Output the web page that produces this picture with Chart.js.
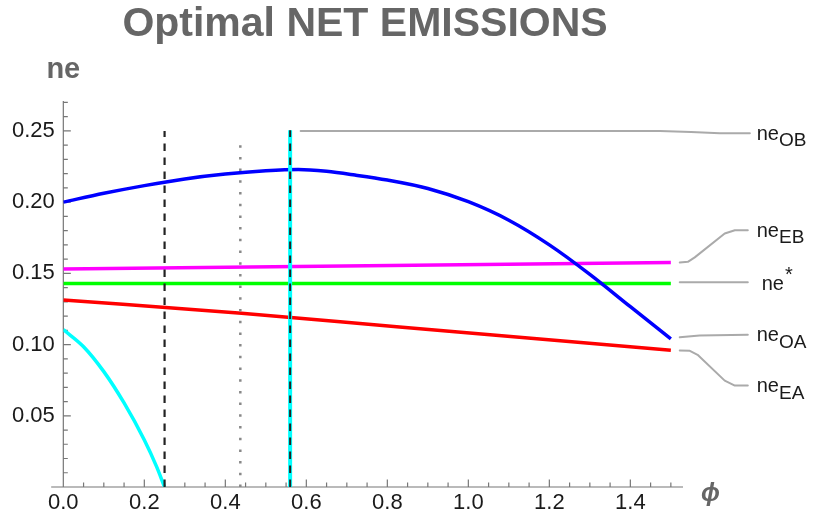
<!DOCTYPE html>
<html>
<head>
<meta charset="utf-8">
<script src="https://cdn.jsdelivr.net/npm/chart.js@4.4.0/dist/chart.umd.min.js"></script>
<style>
  html, body { margin: 0; padding: 0; background: #fff; }
  #wrap { width: 813px; height: 524px; }
</style>
</head>
<body>
<div id="wrap"><canvas id="chart"></canvas></div>
<script>
// tick labels
var xTicks = [0, 0.2, 0.4, 0.6, 0.8, 1.0, 1.2, 1.4];
var yTicks = [0.05, 0.10, 0.15, 0.20, 0.25];

// curves
var blueX = [0, 0.1, 0.2, 0.3, 0.4, 0.5, 0.58, 0.65, 0.72, 0.8, 0.9, 1.0, 1.1, 1.2, 1.3, 1.4, 1.5];
var blueY = [0.2000, 0.2062, 0.2116, 0.2163, 0.2197, 0.2220, 0.2229, 0.2216, 0.2190, 0.2155, 0.2096, 0.2003, 0.1873, 0.1700, 0.1493, 0.1266, 0.1040];

var magentaX = [0, 1.5];
var magentaY = [0.1530, 0.1577];

var greenX = [0, 1.5];
var greenY = [0.1428, 0.1428];

var redX = [0, 0.44, 0.83, 1.5];
var redY = [0.1313, 0.1220, 0.1123, 0.0960];

var cyanX = [0, 0.05, 0.10, 0.15, 0.20, 0.23, 0.25];
var cyanY = [0.1105, 0.0985, 0.0810, 0.0590, 0.0330, 0.0145, 0];

// vertical markers (phi value, top)
var dashedPhi = 0.25, dashedTop = 0.25;
var dottedPhi = 0.437, dottedTop = 0.2437;
var cyanPhi = 0.56, cyanTop = 0.2505;

// callout labels and their leader lines (data coords)
var calloutNames = ['OB', 'EB', '*', 'OA', 'EA'];
var calloutLines = [
    [[0.586, 0.2500], [1.473, 0.2500], [1.55, 0.2492], [1.621, 0.2484], [1.695, 0.2484]],
    [[1.522, 0.1577], [1.542, 0.1581], [1.559, 0.1612], [1.633, 0.1780], [1.658, 0.1803], [1.690, 0.1803]],
    [[1.522, 0.1437], [1.690, 0.1437]],
    [[1.522, 0.1051], [1.571, 0.1063], [1.690, 0.1069]],
    [[1.522, 0.0958], [1.547, 0.0956], [1.566, 0.0928], [1.633, 0.0747], [1.658, 0.0712], [1.690, 0.0712]]
];
var calloutLabelX = 1.712;

var FONT = "'Liberation Sans', Arial, sans-serif";

function pts(xs, ys) {
    return xs.map(function(x, i) { return { x: x, y: ys[i] }; });
}

function curve(data, color) {
    return {
        data: data,
        borderColor: color,
        borderWidth: 3.5,
        pointRadius: 0,
        showLine: true,
        fill: false,
        cubicInterpolationMode: 'monotone'
    };
}

// axes with inward ticks, labels, title, callouts
var decorPlugin = {
    id: 'decor',
    beforeDatasetsDraw: function(chart) {
        var ctx = chart.ctx;
        var xs = chart.scales.x, ys = chart.scales.y;
        var x0 = xs.getPixelForValue(0), y0 = ys.getPixelForValue(0);
        ctx.save();
        ctx.strokeStyle = '#777';
        ctx.lineWidth = 1.2;
        ctx.beginPath();
        ctx.moveTo(xs.getPixelForValue(-0.03), y0);
        ctx.lineTo(xs.getPixelForValue(1.53), y0);
        ctx.moveTo(x0, y0);
        ctx.lineTo(x0, ys.getPixelForValue(0.271));
        for (var i = 1; i <= 30; i++) {
            var px = xs.getPixelForValue(i * 0.05);
            var len = (i % 4 === 0) ? 7.5 : 4.5;
            ctx.moveTo(px, y0);
            ctx.lineTo(px, y0 - len);
        }
        for (var j = 1; j <= 27; j++) {
            var py = ys.getPixelForValue(j * 0.01);
            var l2 = (j % 5 === 0) ? 7.5 : 4.5;
            ctx.moveTo(x0, py);
            ctx.lineTo(x0 + l2, py);
        }
        ctx.stroke();
        ctx.restore();
    },
    afterDraw: function(chart) {
        var ctx = chart.ctx;
        var xs = chart.scales.x, ys = chart.scales.y;
        ctx.save();

        // title and axis names
        ctx.fillStyle = '#666';
        ctx.textAlign = 'center';
        ctx.textBaseline = 'alphabetic';
        ctx.font = 'bold 41px ' + FONT;
        ctx.fillText('Optimal NET EMISSIONS', 365, 36);
        ctx.font = 'bold 29px ' + FONT;
        ctx.fillText('ne', xs.getPixelForValue(0), 78);
        ctx.textAlign = 'left';
        ctx.font = 'bold italic 25px ' + FONT;
        ctx.fillText('\u03D5', xs.getPixelForValue(1.53) + 18, 501);

        // callouts
        ctx.strokeStyle = '#aaa';
        ctx.lineWidth = 2;
        ctx.lineJoin = 'round';
        ctx.lineCap = 'round';
        calloutLines.forEach(function(line, k) {
            ctx.beginPath();
            line.forEach(function(p, n) {
                var px = xs.getPixelForValue(p[0]), py = ys.getPixelForValue(p[1]);
                if (n === 0) ctx.moveTo(px, py); else ctx.lineTo(px, py);
            });
            ctx.stroke();

            var end = line[line.length - 1];
            var lx = xs.getPixelForValue(calloutLabelX);
            var base = ys.getPixelForValue(end[1]) + 6.5;
            var name = calloutNames[k];
            ctx.fillStyle = '#1a1a1a';
            ctx.font = '20px ' + FONT;
            if (name === '*') {
                lx += 5;
                ctx.fillText('ne', lx, base + 1);
                var w0 = ctx.measureText('ne').width;
                ctx.fillText('*', lx + w0 + 1, base - 8);
            } else {
                ctx.fillText('ne', lx, base);
                var w = ctx.measureText('ne').width;
                ctx.font = '19px ' + FONT;
                ctx.fillText(name, lx + w, base + 6.5);
            }
        });
        ctx.restore();
    }
};

var datasets = [
    // vertical markers on top
    { data: [{ x: cyanPhi, y: 0 }, { x: cyanPhi, y: cyanTop }], borderColor: '#222', borderWidth: 2, borderDash: [7.5, 6.5], pointRadius: 0, showLine: true },
    { data: [{ x: cyanPhi, y: 0 }, { x: cyanPhi, y: cyanTop }], borderColor: '#00ffff', borderWidth: 4, pointRadius: 0, showLine: true },
    { data: [{ x: dottedPhi, y: 0 }, { x: dottedPhi, y: dottedTop }], borderColor: '#888', borderWidth: 2.5, borderDash: [2.5, 9.2], pointRadius: 0, showLine: true },
    { data: [{ x: dashedPhi, y: 0 }, { x: dashedPhi, y: dashedTop }], borderColor: '#222', borderWidth: 2.2, borderDash: [7.5, 6.5], pointRadius: 0, showLine: true },
    curve(pts(blueX, blueY), '#0000ff'),
    curve(pts(magentaX, magentaY), '#ff00ff'),
    curve(pts(greenX, greenY), '#00ff00'),
    curve(pts(redX, redY), '#ff0000'),
    curve(pts(cyanX, cyanY), '#00ffff')
];

new Chart(document.getElementById('chart'), {
    type: 'scatter',
    data: { datasets: datasets },
    options: {
        responsive: true,
        maintainAspectRatio: false,
        animation: false,
        layout: { padding: { top: 101, bottom: 4.6, left: 3.5, right: 130 } },
        plugins: {
            legend: { display: false },
            tooltip: { enabled: false }
        },
        scales: {
            x: {
                type: 'linear',
                min: 0,
                max: 1.53,
                grid: { display: false, drawTicks: false },
                border: { display: false },
                afterBuildTicks: function(scale) {
                    scale.ticks = xTicks.map(function(v) { return { value: v }; });
                },
                ticks: {
                    padding: 3,
                    color: '#1a1a1a',
                    font: { family: FONT, size: 22 },
                    maxRotation: 0,
                    callback: function(v) { return Number(v).toFixed(1); }
                }
            },
            y: {
                type: 'linear',
                min: 0,
                max: 0.271,
                grid: { display: false, drawTicks: false },
                border: { display: false },
                afterBuildTicks: function(scale) {
                    scale.ticks = yTicks.map(function(v) { return { value: v }; });
                },
                ticks: {
                    padding: 8.5,
                    color: '#1a1a1a',
                    font: { family: FONT, size: 22 },
                    callback: function(v) { return Number(v).toFixed(2); }
                }
            }
        }
    },
    plugins: [decorPlugin]
});
</script>
</body>
</html>
